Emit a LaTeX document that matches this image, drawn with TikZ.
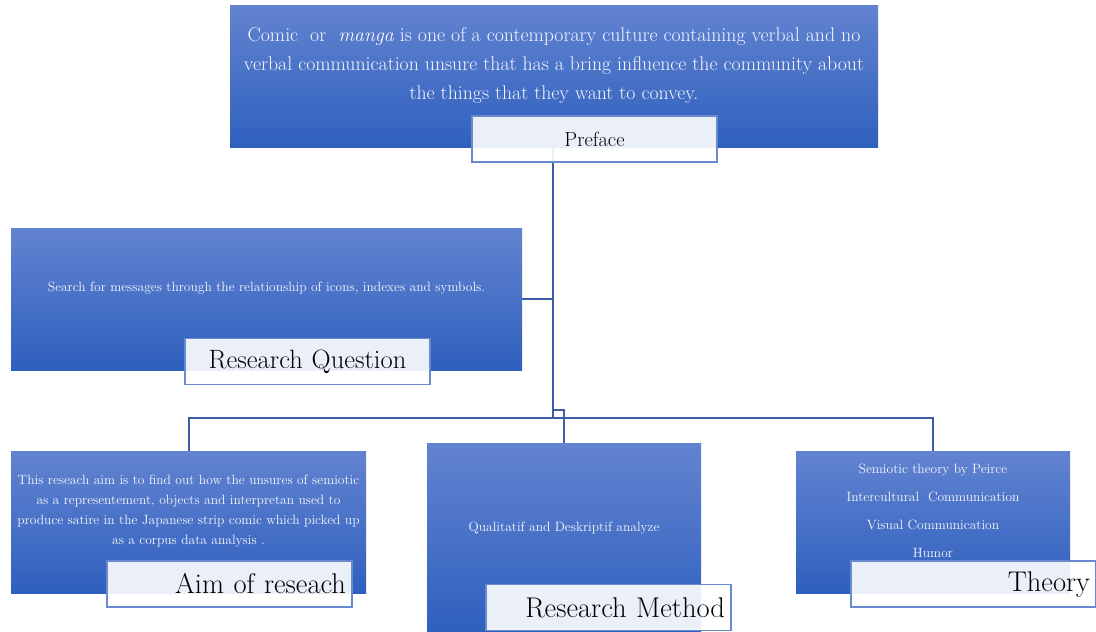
\documentclass[tikz,border=0pt]{standalone}
\usepackage{tikz}
\usetikzlibrary{calc}
\definecolor{boxtop}{RGB}{98,131,208}
\definecolor{boxbottom}{RGB}{47,96,190}
\definecolor{linkblue}{RGB}{61,95,168}
\definecolor{tagedge}{RGB}{105,138,206}
\definecolor{boxtext}{RGB}{246,247,252}
\tikzstyle{panel} = [rectangle, top color=boxtop, bottom color=boxbottom, draw=none, inner sep=0pt]
\tikzstyle{panetext} = [text=boxtext, align=center, inner sep=0pt]
\tikzstyle{tag} = [rectangle, draw=tagedge, line width=1.2pt, fill=white, fill opacity=0.9,
text opacity=1, minimum width=245pt, minimum height=46pt, inner xsep=6pt, text width=233pt]
\tikzstyle{line} = [draw=linkblue, line width=2pt]

\begin{document}
\begin{tikzpicture}[x=1pt, y=-1pt]
        \useasboundingbox (0,0) rectangle (1096,632);
        % blue panels
        \node (P) [panel, minimum width=648pt, minimum height=142pt] at (554,76) {};
        \node (Q) [panel, minimum width=511pt, minimum height=142pt] at (266.5,299) {};
        \node (A) [panel, minimum width=355pt, minimum height=142pt] at (188.5,522) {};
        \node (M) [panel, minimum width=274pt, minimum height=189pt] at (564,537.5) {};
        \node (T) [panel, minimum width=274pt, minimum height=142pt] at (933,522) {};

        \node (Ptext) [panetext, font=\fontsize{19.8}{29}\selectfont] at ([yshift=10pt]P.center)
            {Comic~ or~ \textit{manga} is one of a contemporary culture containing verbal and no\\
             verbal communication unsure that has a bring influence the community about\\
             the things that they want to convey.};
        \node (Qtext) [panetext, font=\fontsize{13.5}{20}\selectfont] at ([yshift=11pt]Q.center)
            {Search for messages through the relationship of icons, indexes and symbols.};
        \node (Atext) [panetext, font=\fontsize{13.5}{20}\selectfont] at ([yshift=11pt]A.center)
            {This reseach aim is to find out how the unsures of semiotic\\
             as a representement, objects and interpretan used to\\
             produce satire in the Japanese strip comic which picked up\\
             as a corpus data analysis .};
        \node (Mtext) [panetext, font=\fontsize{13.5}{20}\selectfont] at ([yshift=9.5pt]M.center)
            {Qualitatif and Deskriptif analyze};
        \node (Ttext) [panetext, font=\fontsize{13.5}{28}\selectfont] at ([yshift=11pt]T.center)
            {Semiotic theory by Peirce\\ Intercultural~ Communication\\ Visual Communication\\ Humor};

        \coordinate (J) at (553,418); % the row of branches
        \coordinate (K) at (553,410);

        \draw [line] (P.south -| J) -- (J);
        \draw [line] (Q.east) -- (Q.east -| J);
        \draw [line] (A.north) |- (J) -| (T.north);
        \draw [line] (K) -| (M.north);

        % title tags
        \node (PL) [tag, align=center, font=\fontsize{20.5}{24}\selectfont] at (594.5,139) {Preface};
        \node (QL) [tag, align=center, font=\fontsize{26.5}{30}\selectfont] at (307.5,361.5) {Research Question};
        \node (AL) [tag, align=right, font=\fontsize{28.5}{30}\selectfont] at (229.5,584) {Aim of reseach};
        \node (ML) [tag, align=right, font=\fontsize{28.5}{30}\selectfont] at (608.5,607.5) {Research Method};
        \node (TL) [tag, align=right, font=\fontsize{28.5}{30}\selectfont] at (973.5,584) {Theory};

    \end{tikzpicture}
\end{document}
